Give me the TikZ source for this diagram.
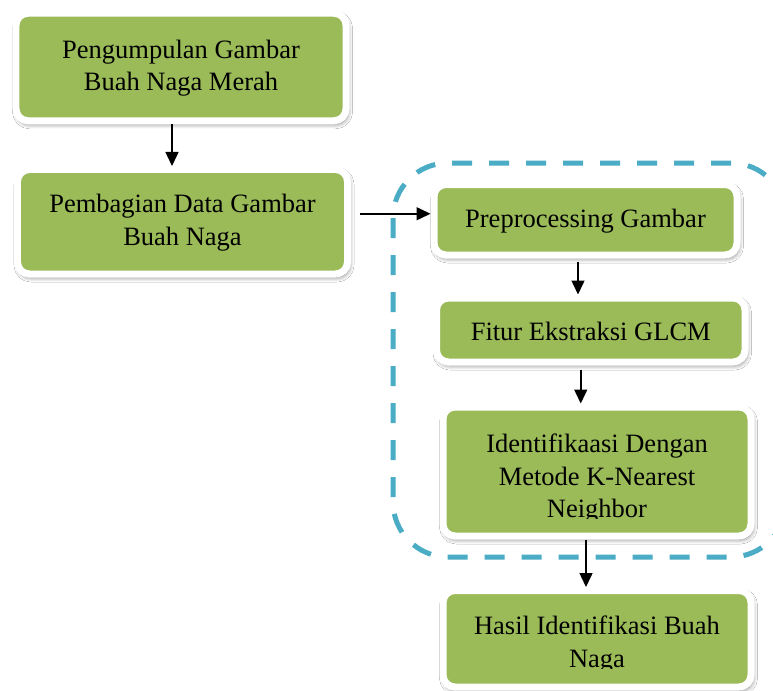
\documentclass[tikz,border=0pt]{standalone}
\usepackage{fontspec}
\setmainfont{Liberation Serif}
\usetikzlibrary{arrows.meta,shadows.blur,calc}
\definecolor{boxgreen}{HTML}{9BBB59}
\definecolor{dashblue}{HTML}{4BACC6}
\tikzset{
  flowbox/.style={rectangle, rounded corners=12bp, fill=boxgreen, draw=white,
    line width=7bp, inner sep=0pt,
    blur shadow={shadow xshift=1.5bp, shadow yshift=-3bp, shadow blur radius=5bp, shadow blur steps=10, shadow opacity=55}},
  boxtext/.style={align=center, inner sep=0pt, text=black,
    font=\fontsize{26.5bp}{32.5bp}\selectfont},
  arr/.style={line width=1.5bp, -{Triangle[width=13bp,length=14bp]}},
  groupline/.style={draw=dashblue, line width=5bp, dash pattern=on 20bp off 17bp, rounded corners=55bp}
}
\begin{document}
\begin{tikzpicture}[x=1bp,y=-1bp]
\clip (0,0) rectangle (773,691);
\fill[white] (0,0) rectangle (773,691);
% dashed group
\draw[groupline] (393,163) rectangle (786,557);
% boxes
\node[flowbox, minimum width=330bp, minimum height=107.5bp] (b1) at (181,67) {};
\node[flowbox, minimum width=330bp, minimum height=104.5bp] (b2) at (182.5,221.75) {};
\node[flowbox, minimum width=303bp, minimum height=70.5bp] (b3) at (585.5,219.75) {};
\node[flowbox, minimum width=308.5bp, minimum height=64bp] (b4) at (590.75,330) {};
\node[flowbox, minimum width=308bp, minimum height=129bp] (b5) at (597,471.5) {};
\node[flowbox, minimum width=308bp, minimum height=96.5bp] (b6) at (597,638.75) {};
% texts
\node[boxtext] (t1) at ([yshift=-1bp]b1.center) {Pengumpulan Gambar\\Buah Naga Merah};
\node[boxtext] (t2) at ([yshift=-1bp]b2.center) {Pembagian Data Gambar\\Buah Naga};
\node[boxtext] (t3) at ([yshift=-1bp]b3.center) {Preprocessing Gambar};
\node[boxtext] (t4) at ([yshift=-1bp]b4.center) {Fitur Ekstraksi GLCM};
\begin{scope}
\clip (443,407) rectangle (751,518);
\node[boxtext] (t5) at ([yshift=-7.5bp]b5.center) {Identifikaasi Dengan\\Metode K-Nearest\\Neighbor};
\end{scope}
\begin{scope}
\clip (443,590) rectangle (751,668);
\node[boxtext] (t6) at ([yshift=-6bp]b6.center) {Hasil Identifikasi Buah\\Naga};
\end{scope}
% connectors
\draw[arr] ([xshift=-9bp]b1.south) -- ([xshift=-9bp]b1.south |- b2.north);
\coordinate (a2end) at ([yshift=6bp]b3.west);
\draw[arr] ([xshift=9bp]b2.east |- a2end) -- (a2end);
\draw[arr] ([xshift=-7.5bp,yshift=-3bp]b3.south) -- ([xshift=-7.5bp]b3.south |- b4.north);
\draw[arr] ([xshift=-10bp,yshift=-4bp]b4.south) -- ([xshift=-10bp]b4.south |- b5.north);
\draw[arr] ([xshift=-11bp]b5.south) -- ([xshift=-11bp]b5.south |- b6.north);
\end{tikzpicture}
\end{document}
